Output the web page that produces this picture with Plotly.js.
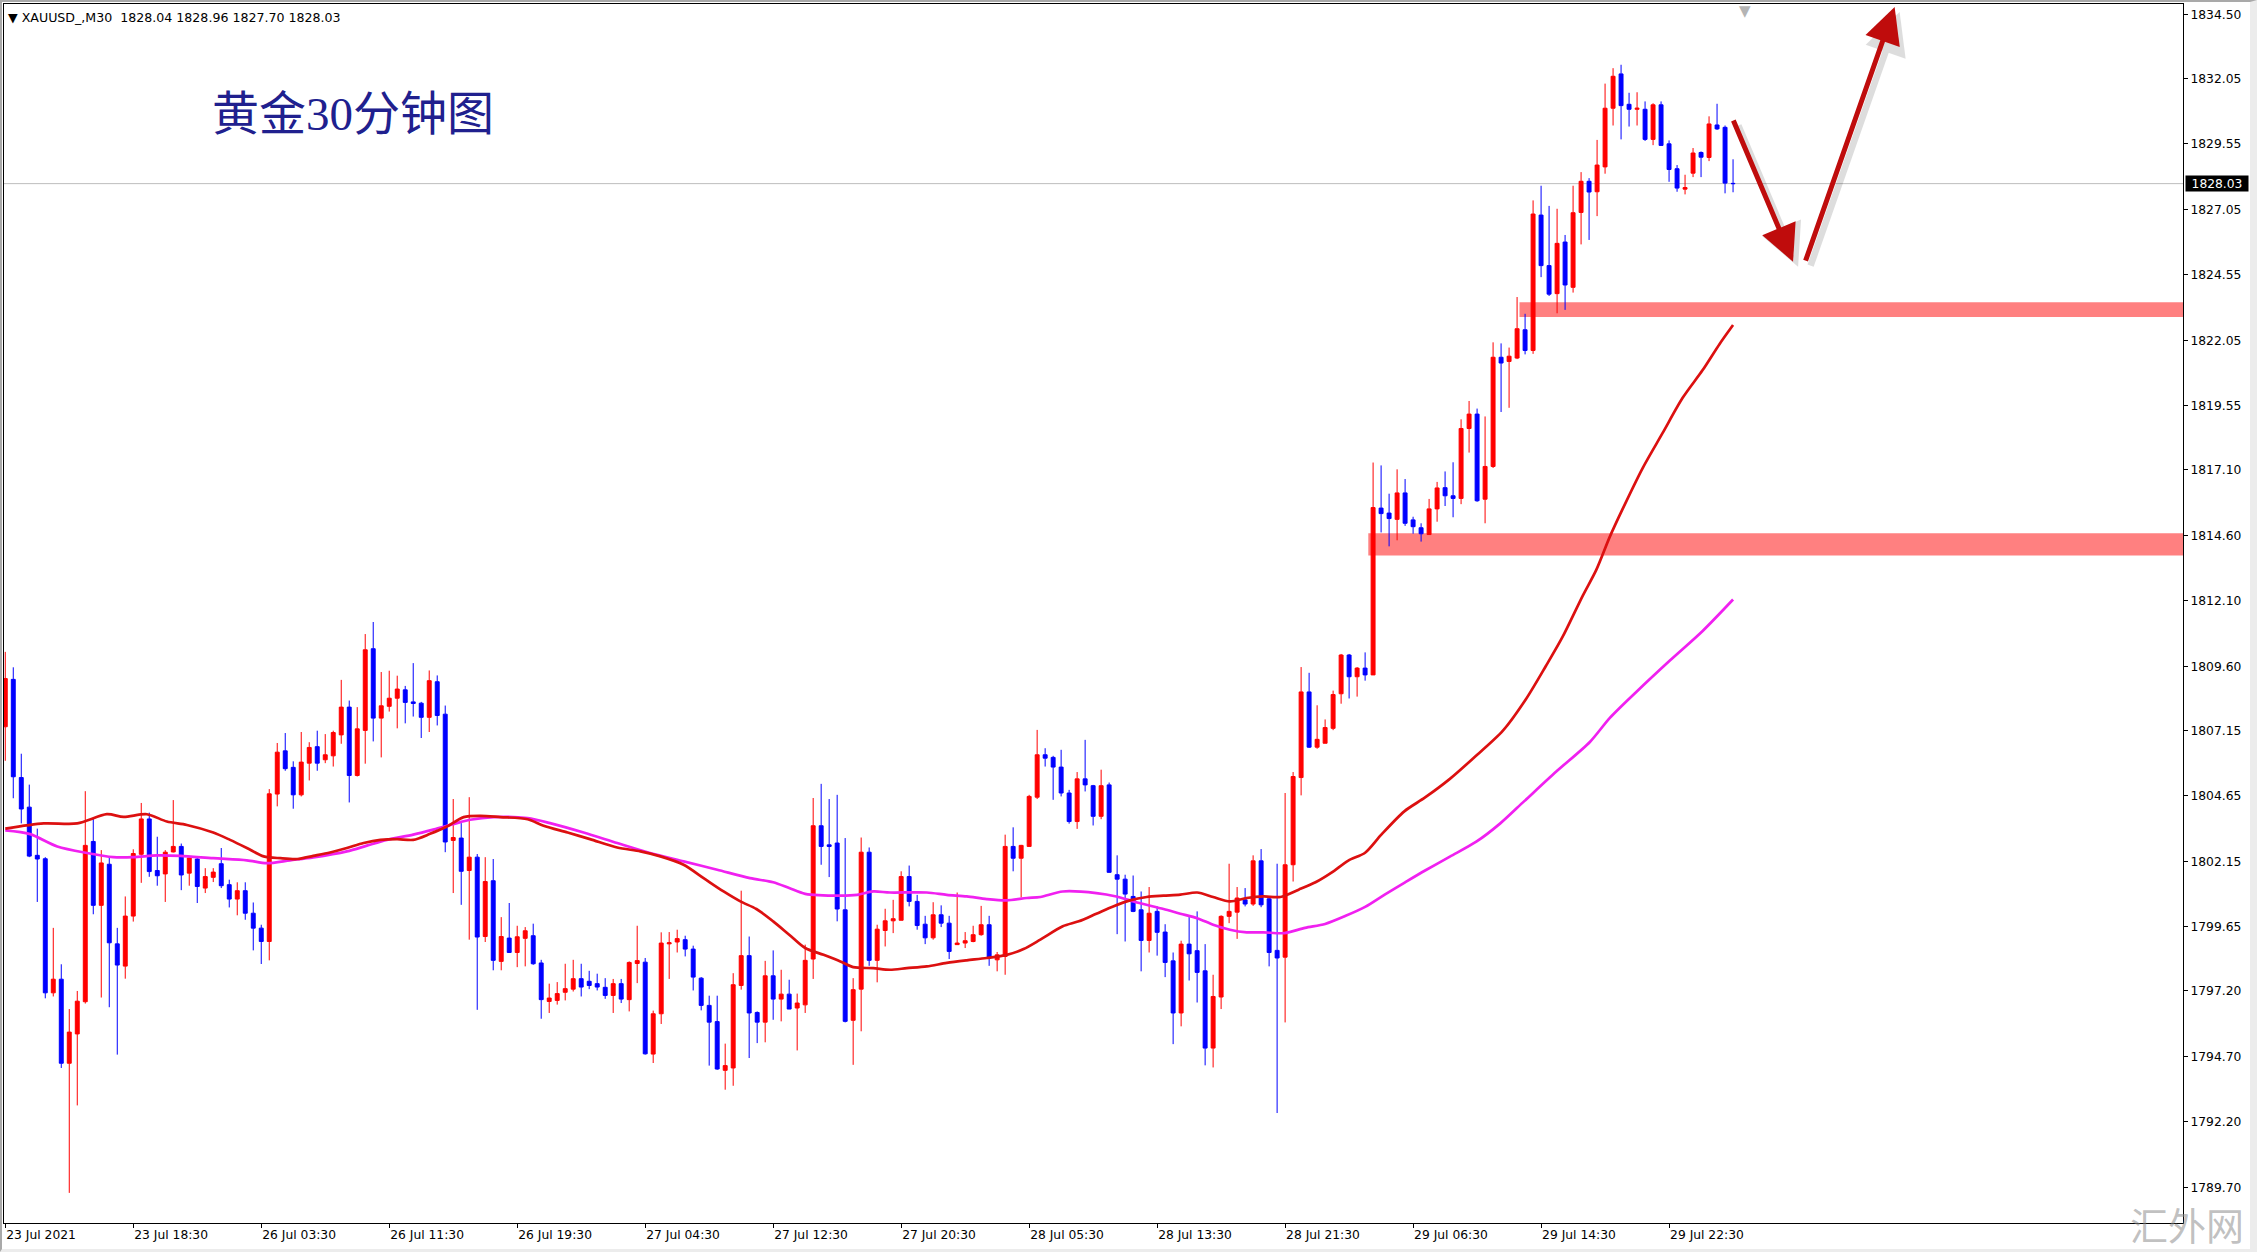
<!DOCTYPE html>
<html>
<head>
<meta charset="utf-8">
<script src="https://cdn.plot.ly/plotly-3.0.1.min.js"></script>
<style>
html,body{margin:0;padding:0;background:#fff;}
#wrap{position:relative;width:2257px;height:1252px;overflow:hidden;}
#chart{position:absolute;left:0;top:0;width:2257px;height:1252px;}
#frame{position:absolute;left:0;top:0;width:2257px;height:1252px;box-sizing:border-box;
  border-top:2px solid #a9a9a9;border-left:2px solid #a9a9a9;border-right:7px solid #ececec;border-bottom:3px solid #ececec;pointer-events:none;}
</style>
</head>
<body>
<div id="wrap"><div id="chart"></div><div id="frame"></div></div>
<script>
// ---------------- DATA (XAUUSD M30) ----------------
const symbolName = "XAUUSD_,M30";
const chartTitle = "黄金30分钟图";
const watermark = "汇外网";

const open = [
1807.29,1809.10,1805.35,1804.22,1802.38,1802.25,1797.13,1797.65,1794.44,1795.56,
1796.79,1802.91,1800.47,1802.04,1799.00,1798.15,1800.06,1802.42,1803.77,1801.80,
1801.67,1802.51,1802.72,1801.70,1802.24,1801.13,1801.54,1802.06,1801.26,1800.71,
1801.03,1800.17,1799.60,1799.09,1804.72,1806.37,1805.74,1804.69,1805.90,1806.53,
1806.03,1806.18,1806.98,1808.04,1805.43,1807.15,1810.27,1807.62,1808.07,1808.38,
1808.70,1808.24,1808.19,1807.65,1809.01,1807.77,1802.95,1803.04,1801.80,1802.31,
1799.28,1801.41,1798.33,1799.22,1798.67,1799.21,1799.31,1798.27,1796.80,1796.84,
1797.15,1797.27,1797.67,1797.57,1797.48,1797.34,1797.03,1797.48,1796.87,1798.25,
1798.30,1794.79,1796.33,1799.00,1799.07,1799.16,1798.80,1797.69,1796.65,1796.03,
1794.17,1794.26,1797.41,1798.55,1796.38,1796.01,1797.78,1796.89,1797.08,1796.55,
1796.67,1798.42,1803.51,1802.78,1802.85,1800.30,1796.08,1797.27,1802.50,1798.37,
1799.51,1799.88,1799.90,1801.57,1800.62,1799.75,1799.23,1800.11,1799.79,1798.97,
1799.03,1799.09,1799.35,1799.73,1798.39,1798.52,1802.72,1802.27,1802.72,1804.60,
1806.22,1806.12,1805.75,1804.76,1803.67,1805.30,1805.04,1803.87,1805.07,1801.64,
1801.47,1800.81,1800.30,1799.13,1800.24,1799.45,1798.35,1796.36,1798.99,1798.74,
1797.97,1795.02,1796.97,1800.05,1800.21,1800.68,1800.52,1802.17,1800.72,1798.75,
1798.49,1802.02,1805.35,1808.62,1806.51,1806.66,1807.23,1808.55,1810.03,1809.20,
1809.53,1809.27,1815.64,1815.45,1815.21,1816.22,1815.19,1814.89,1814.63,1815.61,
1816.42,1816.11,1816.01,1818.68,1819.23,1815.98,1817.23,1821.40,1821.24,1821.37,
1822.45,1821.66,1826.83,1824.90,1823.83,1825.80,1824.07,1826.93,1828.12,1827.72,
1828.67,1830.91,1832.22,1831.06,1830.87,1830.87,1829.72,1831.04,1829.55,1828.60,
1827.82,1828.43,1829.22,1829.03,1830.27,1830.18,1828.04
];
const high = [
1810.15,1809.56,1806.26,1805.08,1803.40,1802.31,1799.61,1798.22,1796.51,1797.20,
1804.83,1803.77,1802.58,1802.31,1799.61,1800.81,1802.61,1804.38,1804.01,1803.09,
1802.58,1804.49,1802.83,1802.31,1802.31,1801.89,1801.89,1802.66,1801.45,1801.35,
1801.35,1800.58,1799.73,1804.91,1806.67,1807.05,1805.97,1807.09,1806.70,1807.14,
1807.01,1807.14,1809.08,1808.29,1808.04,1810.83,1811.29,1809.38,1809.43,1809.24,
1808.85,1809.72,1808.24,1809.44,1809.25,1808.10,1804.53,1803.61,1804.60,1802.43,
1802.31,1802.24,1800.02,1800.56,1799.69,1799.64,1799.77,1798.39,1797.48,1797.54,
1798.24,1798.39,1798.24,1797.97,1797.86,1797.69,1797.66,1797.66,1798.33,1799.69,
1798.46,1796.45,1799.44,1799.45,1799.54,1799.31,1798.93,1797.73,1797.02,1797.02,
1795.19,1797.88,1801.03,1799.28,1796.42,1798.35,1798.75,1798.01,1797.63,1797.10,
1798.97,1804.57,1805.11,1804.53,1804.69,1803.04,1797.69,1803.06,1802.68,1799.73,
1800.34,1800.68,1801.77,1801.99,1800.87,1800.07,1800.59,1800.47,1800.07,1800.96,
1799.45,1799.69,1800.45,1800.07,1798.69,1803.17,1803.45,1802.78,1804.69,1807.17,
1806.47,1806.18,1806.41,1804.88,1805.56,1806.79,1805.07,1805.65,1805.16,1802.38,
1801.64,1801.61,1801.00,1801.17,1800.43,1799.75,1798.67,1799.12,1800.02,1800.24,
1798.99,1797.82,1800.09,1802.06,1801.17,1801.13,1802.38,1802.62,1800.81,1802.06,
1804.76,1805.56,1809.57,1809.35,1808.11,1807.57,1808.67,1810.07,1810.07,1809.57,
1810.13,1817.38,1817.27,1816.19,1817.12,1816.75,1815.31,1815.06,1815.99,1816.64,
1817.04,1817.39,1819.03,1819.73,1819.44,1819.14,1821.97,1821.93,1821.77,1823.70,
1823.06,1827.39,1827.95,1827.18,1827.07,1826.07,1827.95,1828.47,1828.24,1829.70,
1831.85,1832.44,1832.57,1831.50,1831.52,1831.17,1831.10,1831.17,1829.68,1828.74,
1828.37,1829.39,1829.26,1830.60,1831.08,1830.25,1828.96
];
const low = [
1805.99,1804.56,1803.60,1802.31,1800.60,1796.92,1796.99,1794.26,1789.49,1792.83,
1796.72,1800.13,1796.95,1796.58,1794.77,1797.67,1799.85,1801.33,1801.56,1801.22,
1800.60,1802.49,1801.05,1801.22,1800.56,1800.94,1801.36,1801.13,1800.39,1800.09,
1799.92,1798.75,1798.23,1798.37,1804.25,1805.61,1804.16,1804.63,1805.24,1805.61,
1805.90,1805.77,1806.64,1804.40,1805.39,1805.88,1806.73,1806.12,1807.87,1807.23,
1807.42,1807.68,1806.86,1807.09,1807.34,1802.50,1800.94,1800.49,1799.16,1796.48,
1799.07,1797.99,1797.99,1798.65,1798.11,1798.14,1798.20,1796.14,1796.36,1796.68,
1796.84,1797.18,1796.99,1797.27,1797.22,1796.90,1796.36,1796.74,1796.42,1797.50,
1794.77,1794.45,1795.94,1797.66,1798.67,1798.52,1797.22,1796.46,1794.35,1794.19,
1793.43,1793.58,1797.25,1794.64,1795.21,1795.24,1796.10,1796.04,1796.51,1794.93,
1796.36,1797.66,1802.02,1801.55,1799.86,1796.00,1794.38,1795.66,1798.16,1797.53,
1798.90,1799.41,1799.90,1800.43,1799.54,1798.99,1799.16,1799.64,1798.42,1798.97,
1798.84,1799.06,1799.31,1798.16,1797.95,1797.82,1801.77,1800.77,1802.72,1804.53,
1805.77,1804.50,1804.63,1803.59,1803.39,1804.82,1803.52,1803.76,1801.73,1799.37,
1799.09,1800.21,1797.95,1798.67,1798.55,1797.73,1795.17,1795.85,1797.60,1796.76,
1794.36,1794.28,1796.51,1799.79,1799.19,1800.43,1800.45,1800.40,1798.14,1792.54,
1796.00,1801.38,1804.67,1806.48,1806.45,1806.66,1807.16,1808.17,1808.37,1808.44,
1809.05,1809.27,1814.71,1814.18,1814.41,1814.96,1814.66,1814.36,1814.63,1815.12,
1815.72,1815.29,1815.79,1817.76,1815.88,1815.06,1817.17,1819.31,1819.47,1821.33,
1821.51,1821.53,1824.46,1823.74,1823.08,1823.21,1823.87,1825.71,1825.88,1826.79,
1828.41,1830.25,1829.72,1830.21,1830.25,1829.66,1829.50,1829.49,1828.10,1827.72,
1827.62,1828.28,1828.28,1828.89,1830.08,1827.66,1827.70
];
const close = [
1809.13,1805.38,1804.15,1802.35,1802.24,1797.13,1797.65,1794.44,1795.63,1796.81,
1802.76,1800.47,1802.09,1799.04,1798.19,1800.06,1802.45,1803.77,1801.76,1801.60,
1802.50,1802.72,1801.63,1802.28,1801.19,1801.57,1801.74,1801.22,1800.71,1801.03,
1800.17,1799.60,1799.09,1804.73,1806.32,1805.69,1804.69,1805.94,1806.50,1805.90,
1806.22,1807.07,1808.04,1805.43,1807.21,1810.23,1807.62,1808.09,1808.38,1808.73,
1808.22,1808.18,1807.65,1809.05,1807.72,1802.89,1803.06,1801.77,1802.31,1799.26,
1801.38,1798.37,1799.28,1798.67,1799.27,1799.50,1798.24,1796.87,1796.93,1797.10,
1797.29,1797.67,1797.35,1797.41,1797.35,1797.03,1797.48,1796.89,1798.29,1798.36,
1794.80,1796.33,1799.03,1799.04,1799.20,1798.80,1797.73,1796.65,1796.01,1794.22,
1794.35,1797.44,1798.55,1796.36,1796.01,1797.78,1796.89,1797.08,1796.51,1796.74,
1798.37,1803.51,1802.72,1802.72,1800.33,1796.04,1797.25,1802.50,1798.37,1799.56,
1799.88,1799.96,1801.57,1800.62,1799.70,1799.23,1800.11,1799.79,1798.71,1799.03,
1799.12,1799.35,1799.73,1798.46,1798.58,1802.72,1802.27,1802.76,1804.63,1806.22,
1806.09,1805.75,1804.76,1803.67,1805.30,1805.07,1803.87,1805.04,1801.73,1801.47,
1800.90,1800.24,1799.13,1800.17,1799.44,1798.29,1796.36,1798.99,1798.62,1797.91,
1795.02,1796.99,1800.05,1800.24,1800.75,1800.52,1802.17,1800.49,1798.67,1798.46,
1802.02,1805.39,1808.62,1806.51,1806.81,1807.26,1808.52,1810.03,1809.20,1809.53,
1809.27,1815.66,1815.43,1815.24,1816.22,1815.06,1814.93,1814.66,1815.61,1816.41,
1816.11,1816.01,1818.68,1819.23,1815.92,1817.23,1821.40,1821.18,1821.44,1822.49,
1821.66,1826.87,1824.90,1823.81,1825.75,1824.16,1826.92,1828.12,1827.71,1828.74,
1830.91,1832.13,1831.01,1830.87,1830.91,1829.72,1831.04,1829.49,1828.57,1827.86,
1827.88,1829.20,1829.04,1830.31,1830.12,1828.05,1828.03
];

// Moving averages (bar position, price)
const maRedBar = [0,4.8,9,12.7,14.8,17.7,20.2,22.7,26,28.1,30.2,32.3,34.4,36.5,38.5,40.6,42.7,44.8,46.9,49,51,53.1,55.2,57.3,59.4,61.9,65.3,67.3,70.3,73.1,76.5,79.4,81.9,84.8,87.3,89.8,91.9,93.9,96,98,100,102.3,104.4,106,108.5,110.6,112.7,115.2,117.7,120.2,122.7,125.2,127.3,129.4,132.2,134.2,136.4,138.5,140.6,142.7,144.8,146.9,149,151,153.1,155.2,157.3,159.4,161.7,163.8,165.8,167.9,170,172,174.9,177.5,180.6,183.5,187.2,190.1,192.6,194.7,197.2,198.9,200.6,202.2,204.7,207.2,209.7,212.2,214.3,216];
const maRed = [1803.40,1803.60,1803.60,1803.95,1803.85,1803.95,1803.67,1803.54,1803.25,1802.97,1802.66,1802.34,1802.27,1802.24,1802.36,1802.49,1802.66,1802.85,1802.97,1803.00,1802.97,1803.20,1803.48,1803.84,1803.89,1803.84,1803.76,1803.51,1803.25,1803.00,1802.68,1802.53,1802.34,1802.02,1801.51,1801.00,1800.62,1800.33,1799.86,1799.35,1798.84,1798.58,1798.33,1798.11,1798.07,1798.01,1798.07,1798.14,1798.27,1798.37,1798.46,1798.58,1798.80,1799.16,1799.67,1799.86,1800.15,1800.43,1800.66,1800.79,1800.84,1800.88,1800.96,1800.79,1800.62,1800.75,1800.81,1800.79,1801.07,1801.35,1801.72,1802.18,1802.48,1803.16,1804.06,1804.59,1805.30,1806.08,1807.13,1808.34,1809.61,1810.73,1812.29,1813.28,1814.55,1815.61,1817.17,1818.51,1819.85,1820.91,1821.90,1822.63];
const maMagBar = [0,3.1,6.5,10.2,13.5,16,19,21.9,26,30.2,32.7,35.6,38.5,42.7,45.2,47.7,51,53.5,56.9,58.1,61,65.3,68.1,72.3,76.5,80.6,84.8,89,93.1,96,98,100,104.4,106.5,108.5,110.6,115.2,117.7,120.2,122.7,125.2,127.7,129.4,132.2,136.4,138.9,141.5,144.8,146.9,149,151,153.1,155.2,157.3,159.9,162.5,165,167.5,170,172.5,175,177.5,180.6,183.9,186.9,189.9,193.9,198.1,200.6,203.9,208.1,212.2,216];
const maMag = [1803.33,1803.19,1802.72,1802.47,1802.31,1802.31,1802.38,1802.36,1802.27,1802.19,1802.08,1802.19,1802.30,1802.53,1802.75,1802.97,1803.17,1803.36,1803.65,1803.74,1803.84,1803.80,1803.61,1803.25,1802.85,1802.47,1802.15,1801.83,1801.51,1801.35,1801.13,1800.91,1800.84,1800.87,1801.00,1800.96,1800.96,1800.87,1800.81,1800.71,1800.66,1800.75,1800.79,1801.00,1800.94,1800.81,1800.58,1800.33,1800.15,1799.98,1799.73,1799.54,1799.44,1799.44,1799.41,1799.61,1799.76,1800.06,1800.41,1800.89,1801.35,1801.80,1802.33,1802.90,1803.60,1804.45,1805.58,1806.71,1807.63,1808.62,1809.82,1810.95,1812.15];

// Axis tick labels
const xTickBars = [0,16,32,48,64,80,96,112,128,144,160,176,192,208];
const xTickText = ["23 Jul 2021","23 Jul 18:30","26 Jul 03:30","26 Jul 11:30","26 Jul 19:30","27 Jul 04:30","27 Jul 12:30","27 Jul 20:30","28 Jul 05:30","28 Jul 13:30","28 Jul 21:30","29 Jul 06:30","29 Jul 14:30","29 Jul 22:30"];
const yTickVals = [1834.50,1832.05,1829.55,1827.05,1824.55,1822.05,1819.55,1817.10,1814.60,1812.10,1809.60,1807.15,1804.65,1802.15,1799.65,1797.20,1794.70,1792.20,1789.70];

// Support zones (price band, starting bar)
const zoneLow   = [1822.94, 1813.83];
const zoneHigh  = [1823.50, 1814.68];
const zoneStart = [189.3, 170.4];

// ---------------- LAYOUT ----------------
const W = 2257, H = 1252;
const margin = {l: 4, r: 74, t: 4, b: 29, pad: 0};
const xRange = [-0.16, 272.25];
const yRange = [1788.34, 1834.89];
const plotW = W - margin.l - margin.r, plotH = H - margin.t - margin.b;
const pxX = (xRange[1] - xRange[0]) / plotW;   // bars per pixel
const pxY = (yRange[1] - yRange[0]) / plotH;   // price per pixel

const n = close.length - 1;
const bars = close.map((_, i) => i);
const FONT = "DejaVu Sans";

const traces = [
  {
    type: 'candlestick', x: bars, open: open, high: high, low: low, close: close,
    increasing: {line: {color: '#ff0000', width: 1}, fillcolor: '#ff0000'},
    decreasing: {line: {color: '#0000ff', width: 1}, fillcolor: '#0000ff'},
    whiskerwidth: 0, hoverinfo: 'skip', showlegend: false
  },
  {
    type: 'scatter', mode: 'lines', x: maMagBar, y: maMag,
    line: {color: '#f020f0', width: 2.7, shape: 'spline', smoothing: 0.8},
    hoverinfo: 'skip', showlegend: false
  },
  {
    type: 'scatter', mode: 'lines', x: maRedBar, y: maRed,
    line: {color: '#dc1010', width: 2.7, shape: 'spline', smoothing: 0.8},
    hoverinfo: 'skip', showlegend: false
  }
];

const shapes = [];
zoneLow.forEach((lo, i) => {
  shapes.push({type: 'rect', xref: 'x', yref: 'y', x0: zoneStart[i], x1: xRange[1] + 0.5,
    y0: lo, y1: zoneHigh[i], fillcolor: '#ff8080', line: {width: 0}, layer: 'below'});
});
shapes.push({type: 'line', xref: 'paper', yref: 'y', x0: 0, x1: 1, y0: close[n], y1: close[n],
  line: {color: '#bdbdbd', width: 1}, layer: 'below'});

// Forecast arrows (tail -> tip), drawn as annotations
const arrowSpecs = [
  {tail: [215.96, 1830.50], tip: [223.5, 1825.05]},
  {tail: [225.0, 1825.03], tip: [236.2, 1834.78]}
];
const annotations = [];
const sdx = 5 * pxX, sdy = 5 * pxY;
arrowSpecs.forEach(a => {
  annotations.push({x: a.tip[0] + sdx, y: a.tip[1] - sdy, ax: a.tail[0] + sdx, ay: a.tail[1] - sdy,
    xref: 'x', yref: 'y', axref: 'x', ayref: 'y', text: '', showarrow: true,
    arrowhead: 2, arrowsize: 1.3, arrowwidth: 6.5, arrowcolor: 'rgba(0,0,0,0.13)', standoff: 0});
});
arrowSpecs.forEach(a => {
  annotations.push({x: a.tip[0], y: a.tip[1], ax: a.tail[0], ay: a.tail[1],
    xref: 'x', yref: 'y', axref: 'x', ayref: 'y', text: '', showarrow: true,
    arrowhead: 2, arrowsize: 1.45, arrowwidth: 5, arrowcolor: '#bf0c0c', standoff: 0});
});

// Header line
annotations.push({
  xref: 'paper', yref: 'paper', x: 0, y: 1, xanchor: 'left', yanchor: 'middle', xshift: 2, yshift: -13,
  text: '▼\u00a0' + symbolName + '\u00a0\u00a0' + [open[n], high[n], low[n], close[n]].map(v => v.toFixed(2)).join(' '),
  showarrow: false, font: {family: FONT, size: 12.6, color: '#000'}
});
// Chinese title
annotations.push({
  xref: 'paper', yref: 'paper', x: (210 - margin.l) / plotW, y: 1, xanchor: 'left', yanchor: 'middle', yshift: -110,
  text: chartTitle, showarrow: false,
  font: {family: "Liberation Serif, 'Noto Sans CJK SC'", size: 47, color: '#20208e'}
});
// Current price label
annotations.push({
  xref: 'paper', yref: 'y', x: 1, y: close[n], xanchor: 'left', yanchor: 'middle', xshift: 2,
  text: close[n].toFixed(2), showarrow: false, bgcolor: '#000000', borderpad: 0, width: 62, height: 15,
  font: {family: FONT, size: 12.3, color: '#ffffff'}
});
// Chart-shift marker
annotations.push({
  xref: 'x', yref: 'paper', x: 217.5, y: 1, xanchor: 'center', yanchor: 'top', yshift: 4,
  text: '▼', showarrow: false, font: {family: FONT, size: 15, color: '#b4b4b4'}
});
// Watermark
annotations.push({
  xref: 'paper', yref: 'paper', x: 1, y: 0, xanchor: 'center', yanchor: 'middle', xshift: 4, yshift: 0,
  text: watermark, showarrow: false,
  font: {family: "'Noto Sans CJK SC'", size: 38, color: 'rgba(140,140,140,0.55)'}
});

const layout = {
  width: W, height: H, autosize: false, margin: margin,
  paper_bgcolor: '#ffffff', plot_bgcolor: '#ffffff',
  font: {family: FONT, size: 12.3, color: '#000'},
  showlegend: false,
  xaxis: {
    type: 'linear', range: xRange, fixedrange: true,
    rangeslider: {visible: false},
    showgrid: false, zeroline: false,
    showline: true, mirror: true, linecolor: '#000', linewidth: 1,
    ticks: 'outside', ticklen: 4, tickcolor: '#000', tickwidth: 1,
    tickmode: 'array', tickvals: xTickBars, ticktext: xTickText,
    ticklabelposition: 'outside right',
    tickfont: {family: FONT, size: 12.3, color: '#000'}
  },
  yaxis: {
    type: 'linear', range: yRange, side: 'right', fixedrange: true,
    showgrid: false, zeroline: false,
    showline: true, mirror: true, linecolor: '#000', linewidth: 1,
    ticks: 'outside', ticklen: 4, tickcolor: '#000', tickwidth: 1,
    tickmode: 'array', tickvals: yTickVals, ticktext: yTickVals.map(v => v.toFixed(2)),
    tickfont: {family: FONT, size: 12.3, color: '#000'}
  },
  shapes: shapes,
  annotations: annotations
};

Plotly.newPlot('chart', traces, layout, {displayModeBar: false, staticPlot: true});
</script>
</body>
</html>
